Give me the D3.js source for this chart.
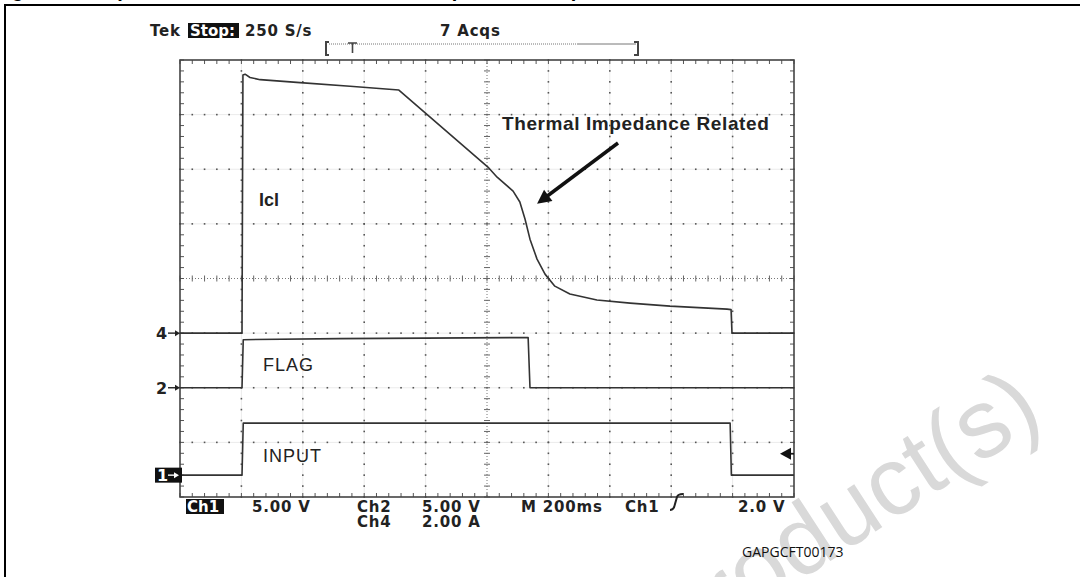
<!DOCTYPE html>
<html>
<head>
<meta charset="utf-8">
<script src="https://cdn.jsdelivr.net/npm/d3@7"></script>
<style>
  body { margin: 0; background: #fff; }
  svg { display: block; }
</style>
</head>
<body>
<svg id="scope"></svg>
<script>
// ---- data (time in ms, Icl in A, volts in V) ----
const iclTime  = [0, 202, 205, 212, 228, 261, 391, 554, 713, 1003, 1033, 1085, 1107, 1124, 1140, 1163, 1189, 1221, 1270, 1358, 1466, 1596, 1782, 1795, 1798, 2000];
const iclAmps  = [0, 0, 9.45, 9.48, 9.36, 9.28, 9.17, 9.04, 8.9, 6.08, 5.71, 5.2, 4.8, 4.17, 3.44, 2.71, 2.16, 1.72, 1.43, 1.21, 1.1, 0.99, 0.88, 0.86, 0, 0];
const flagTime  = [0, 202, 206, 520, 1134, 1140, 2000];
const flagVolts = [0, 0, 4.4, 4.5, 4.6, 0, 0];
const inputTime  = [0, 202, 206, 1792, 1796, 2000];
const inputVolts = [0, 0, 4.76, 4.76, 0, 0];

const channels = [
  { name: "Icl",   time: iclTime,   vals: iclAmps,   ground: 3,   perDiv: 2 },
  { name: "FLAG",  time: flagTime,  vals: flagVolts, ground: 2,   perDiv: 5 },
  { name: "INPUT", time: inputTime, vals: inputVolts, ground: 0.4, perDiv: 5 }
];

const headerLabels = ["250 S/s", "7 Acqs"];
const footerSingle = ["5.00 V", "M 200ms", "Ch1", "2.0 V"];
const footerStacked = [["Ch2", "Ch4"], ["5.00 V", "2.00 A"]];
const groundMarks = ["4", "2"];

const W = 1080, H = 577;
const svg = d3.select("#scope").attr("width", W).attr("height", H);

// page frame + clipped caption
svg.append("text").attr("x", -6).attr("y", -3)
  .attr("font-family", "Liberation Sans, Arial").attr("font-weight", "bold").attr("font-size", 20)
  .text("Figure 9. Output current limitation vs thermal impedance drop");
svg.append("path").attr("d", `M5,${H + 5}V5H${W + 5}`)
  .attr("fill", "none").attr("stroke", "#000").attr("stroke-width", 2);

// watermark
svg.append("text")
  .attr("transform", "translate(1046,421) rotate(-33)")
  .attr("text-anchor", "end")
  .attr("font-family", "Liberation Sans, Arial").attr("font-size", 97)
  .attr("fill", "#d9d9d9")
  .text("Obsolete Product(s)");

// scales: 10 horizontal divisions of 200 ms, 8 vertical divisions
const x = d3.scaleLinear().domain([0, 2000]).range([180, 794]);
const yDiv = d3.scaleLinear().domain([0, 8]).range([497, 60]);
const x0 = x(0), x1 = x(2000), y0 = yDiv(8), y1 = yDiv(0);

const minorX = d3.range(0, 2000.1, 40);
const minorY = d3.range(0, 8.01, 0.2);

const grid = svg.append("g");

// faint grid lines
grid.selectAll("line.vg").data(d3.range(1, 10).filter(i => i !== 5)).join("line")
  .attr("x1", i => x(i * 200)).attr("x2", i => x(i * 200))
  .attr("y1", y0).attr("y2", y1)
  .attr("stroke", "#ebebeb").attr("stroke-width", 1);
grid.selectAll("line.hg").data(d3.range(1, 8).filter(j => j !== 4)).join("line")
  .attr("y1", j => yDiv(j)).attr("y2", j => yDiv(j))
  .attr("x1", x0).attr("x2", x1)
  .attr("stroke", "#ebebeb").attr("stroke-width", 1);

// dotted graticule
const dots = [];
d3.range(1, 10).filter(i => i !== 5).forEach(i => minorY.forEach(v => dots.push([x(i * 200), yDiv(v)])));
d3.range(1, 8).filter(j => j !== 4).forEach(j => minorX.forEach(t => dots.push([x(t), yDiv(j)])));
grid.selectAll("rect.dot").data(dots).join("rect")
  .attr("x", d => d[0] - 0.8).attr("y", d => d[1] - 0.8)
  .attr("width", 1.6).attr("height", 1.6).attr("fill", "#555");

// center cross with ticks
const xc = x(1000), yc = yDiv(4);
grid.append("line").attr("x1", x0).attr("x2", x1).attr("y1", yc).attr("y2", yc)
  .attr("stroke", "#777").attr("stroke-dasharray", "1,2");
grid.append("line").attr("x1", xc).attr("x2", xc).attr("y1", y0).attr("y2", y1)
  .attr("stroke", "#777").attr("stroke-dasharray", "1,2");
grid.selectAll("line.ct").data(minorX).join("line")
  .attr("x1", t => x(t)).attr("x2", t => x(t))
  .attr("y1", yc - 3).attr("y2", yc + 3).attr("stroke", "#666");
grid.selectAll("line.cv").data(minorY).join("line")
  .attr("y1", v => yDiv(v)).attr("y2", v => yDiv(v))
  .attr("x1", xc - 3).attr("x2", xc + 3).attr("stroke", "#666");

// border ticks
const borderTicks = [];
minorX.forEach(t => { borderTicks.push([x(t), y0, x(t), y0 + 4]); borderTicks.push([x(t), y1, x(t), y1 - 4]); });
minorY.forEach(v => { borderTicks.push([x0, yDiv(v), x0 + 4, yDiv(v)]); borderTicks.push([x1, yDiv(v), x1 - 4, yDiv(v)]); });
grid.selectAll("line.bt").data(borderTicks).join("line")
  .attr("x1", d => d[0]).attr("y1", d => d[1]).attr("x2", d => d[2]).attr("y2", d => d[3])
  .attr("stroke", "#555").attr("stroke-width", 1);

grid.append("rect").attr("x", x0).attr("y", y0).attr("width", x1 - x0).attr("height", y1 - y0)
  .attr("fill", "none").attr("stroke", "#444").attr("stroke-width", 1.6);

// traces
channels.forEach(ch => {
  const line = d3.line()
    .x((t) => x(t))
    .y((t, i) => yDiv(ch.ground + ch.vals[i] / ch.perDiv));
  svg.append("path").datum(ch.time)
    .attr("d", line)
    .attr("fill", "none").attr("stroke", "#333").attr("stroke-width", 1.6)
    .attr("stroke-linejoin", "round");
});

// trace labels
svg.append("text").attr("x", 259).attr("y", 206)
  .attr("font-family", "Liberation Sans, Arial").attr("font-weight", "bold").attr("font-size", 18)
  .attr("fill", "#222").text("Icl");
svg.append("text").attr("x", 263).attr("y", 371)
  .attr("font-family", "Liberation Sans, Arial").attr("font-size", 18).attr("letter-spacing", 1)
  .attr("fill", "#222").text("FLAG");
svg.append("text").attr("x", 263).attr("y", 462)
  .attr("font-family", "Liberation Sans, Arial").attr("font-size", 18).attr("letter-spacing", 1)
  .attr("fill", "#222").text("INPUT");

// annotation
svg.append("defs").append("marker")
  .attr("id", "head").attr("viewBox", "0 -5 10 10")
  .attr("refX", 2).attr("refY", 0)
  .attr("markerWidth", 5).attr("markerHeight", 4)
  .attr("orient", "auto")
  .append("path").attr("d", "M0,-5L10,0L0,5Z").attr("fill", "#111");
svg.append("text").attr("x", 502).attr("y", 130)
  .attr("font-family", "Liberation Sans, Arial").attr("font-weight", "bold").attr("font-size", 19)
  .attr("letter-spacing", 0.6).attr("fill", "#222").text("Thermal Impedance Related");
svg.append("line").attr("x1", 618).attr("y1", 143).attr("x2", 546).attr("y2", 197)
  .attr("stroke", "#111").attr("stroke-width", 3.5).attr("marker-end", "url(#head)");

// scope readouts
const tek = svg.append("g").attr("font-family", "DejaVu Sans").attr("font-weight", "bold")
  .attr("font-size", 15).attr("fill", "#222").attr("letter-spacing", 0.8);
tek.append("text").attr("x", 150).attr("y", 36).text("Tek");
tek.append("rect").attr("x", 188).attr("y", 23).attr("width", 51).attr("height", 15).attr("fill", "#111");
tek.append("text").attr("x", 190).attr("y", 36).attr("fill", "#fff").attr("letter-spacing", 0).text("Stop:");
tek.append("text").attr("x", 245).attr("y", 36).text(headerLabels[0]);
tek.append("text").attr("x", 440).attr("y", 36).text(headerLabels[1]);

// trigger position bar
const bar = svg.append("g").attr("stroke", "#444");
bar.append("path").attr("d", "M329,42H326V55H329").attr("fill", "none").attr("stroke-width", 2);
bar.append("line").attr("x1", 329).attr("x2", 577).attr("y1", 44).attr("y2", 44).attr("stroke-dasharray", "1,1").attr("stroke", "#777");
bar.append("line").attr("x1", 577).attr("x2", 636).attr("y1", 44).attr("y2", 44).attr("stroke", "#777");
bar.append("path").attr("d", "M634,42H638V55H634").attr("fill", "none").attr("stroke-width", 2);
bar.append("path").attr("d", "M348,43H357M352.5,43V53").attr("fill", "none").attr("stroke-width", 1.6);

// ground markers
const gm = svg.append("g").attr("font-family", "DejaVu Sans").attr("font-weight", "bold").attr("font-size", 16).attr("fill", "#222");
[3, 2].forEach((g, i) => {
  gm.append("text").attr("x", 156).attr("y", yDiv(g) + 6).text(groundMarks[i]);
  gm.append("path").attr("d", `M168,${yDiv(g)}H176`).attr("stroke", "#222").attr("stroke-width", 1.4);
  gm.append("path").attr("d", `M175,${yDiv(g) - 3}L180,${yDiv(g)}L175,${yDiv(g) + 3}Z`).attr("fill", "#222");
});
const g1 = yDiv(0.4);
gm.append("rect").attr("x", 155).attr("y", g1 - 7.5).attr("width", 27).attr("height", 15).attr("fill", "#111");
gm.append("text").attr("x", 157).attr("y", g1 + 6).attr("fill", "#fff").text("1");
gm.append("path").attr("d", `M168,${g1}H175`).attr("stroke", "#fff").attr("stroke-width", 1.4);
gm.append("path").attr("d", `M174,${g1 - 3}L179,${g1}L174,${g1 + 3}Z`).attr("fill", "#fff");

// trigger level arrow at right
const trigY = yDiv(0.79);
svg.append("path").attr("d", `M780,${trigY}L791,${trigY - 6}L791,${trigY + 6}Z`).attr("fill", "#111");
svg.append("line").attr("x1", 788).attr("x2", 794).attr("y1", trigY).attr("y2", trigY).attr("stroke", "#111").attr("stroke-width", 1.5);

// footer readouts
const ft = svg.append("g").attr("font-family", "DejaVu Sans").attr("font-weight", "bold")
  .attr("font-size", 15).attr("fill", "#222").attr("letter-spacing", 0.8);
ft.append("rect").attr("x", 186).attr("y", 499).attr("width", 38).attr("height", 15).attr("fill", "#111");
ft.append("text").attr("x", 187).attr("y", 512).attr("fill", "#fff").attr("letter-spacing", 0).text("Ch1");
const singleX = [252, 521, 625, 738];
footerSingle.forEach((s, i) => ft.append("text").attr("x", singleX[i]).attr("y", 512).text(s));
const stackedX = [357, 422];
footerStacked.forEach((pair, i) => {
  const t = ft.append("text").attr("x", stackedX[i]).attr("y", 512);
  t.append("tspan").attr("x", stackedX[i]).text(pair[0]);
  t.append("tspan").attr("x", stackedX[i]).attr("dy", 15).text(pair[1]);
});
// rising-edge trigger slope symbol
ft.append("path").attr("d", "M670,510Q674,510 675,504L677,497Q678,494 683,494")
  .attr("fill", "none").attr("stroke", "#222").attr("stroke-width", 2);

svg.append("text").attr("x", 742).attr("y", 557)
  .attr("font-family", "Open Sans").attr("font-size", 14).attr("fill", "#111")
  .text("GAPGCFT00173");
</script>
</body>
</html>
